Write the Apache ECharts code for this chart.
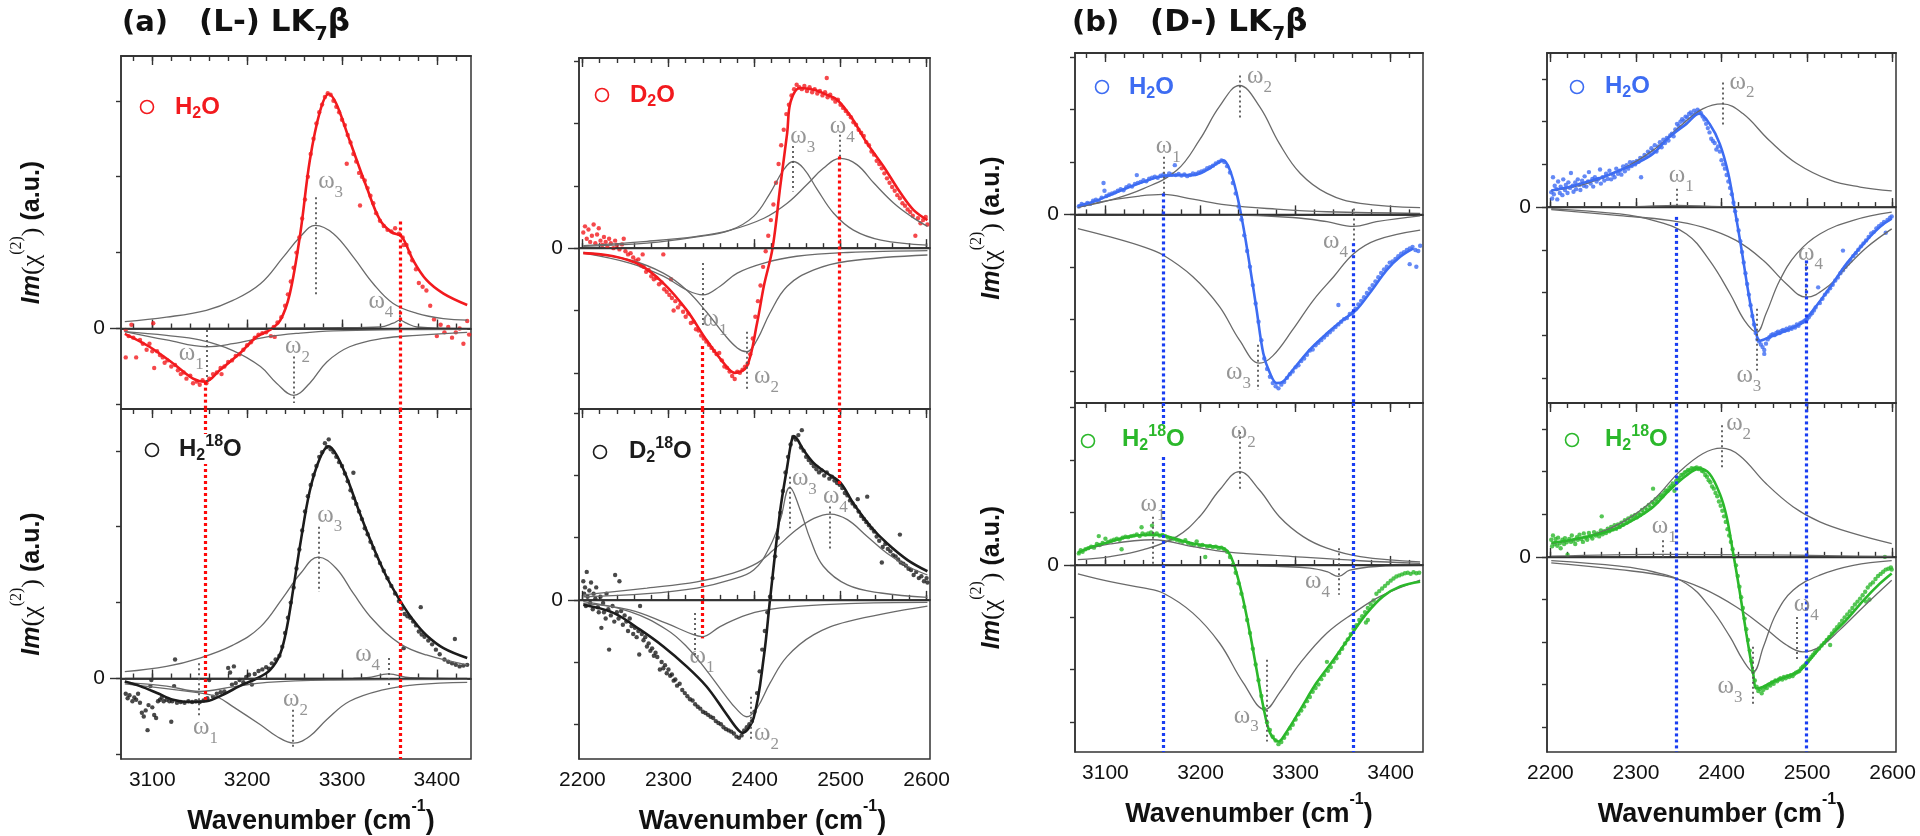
<!DOCTYPE html>
<html><head><meta charset="utf-8">
<script src="https://cdn.jsdelivr.net/npm/echarts@6/dist/echarts.min.js"></script>
<style>html,body{margin:0;padding:0;background:#fff}#c{width:1920px;height:836px}</style>
</head><body><div id="c"></div><script>
// ---------- tick values ----------
const ticksCH = [3100,3200,3300,3400];
const minorCH = [3080,3100,3120,3140,3160,3180,3200,3220,3240,3260,3280,3300,3320,3340,3360,3380,3400,3420];
const ticksOD = [2200,2300,2400,2500,2600];
const minorOD = [2200,2220,2240,2260,2280,2300,2320,2340,2360,2380,2400,2420,2440,2460,2480,2500,2520,2540,2560,2580,2600];
const yTicksA = [-1,0,1,2,3];
const yTicksAR = [-2,-1,0,1,2,3];
const yTicksB = [-3,-2,-1,0,1,2,3];
const yTicksBR = [-4,-3,-2,-1,0,1,2,3];

// ---------- (a) L-LK7b, H2O ----------
const LH_pts = [[3072,-0.02],[3072,-0.38],[3075,-0.10],[3078,0.05],[3080,-0.12],[3083,-0.38],[3087,-0.15],[3090,-0.2],[3094,-0.28],[3097,-0.20],[3100,-0.30],[3101,0.07],[3102,-0.52],[3105,-0.3],[3108,-0.35],[3111,-0.38],[3113,-0.45],[3116,-0.42],[3120,-0.5],[3124,-0.48],[3127,-0.55],[3130,-0.6],[3133,-0.58],[3136,-0.66],[3140,-0.62],[3143,-0.72],[3147,-0.7],[3150,-0.74],[3153,-0.68],[3157,-0.72],[3160,-0.66],[3164,-0.6],[3168,-0.58],[3172,-0.52],[3173,-0.6],[3176,-0.5],[3180,-0.44],[3184,-0.42],[3188,-0.36],[3192,-0.34],[3196,-0.28],[3200,-0.22],[3204,-0.18],[3208,-0.12],[3212,-0.08],[3216,-0.06],[3220,-0.05],[3225,-0.1],[3229,-0.11],[3228,0.02],[3232,0.08],[3236,0.15],[3240,0.3],[3243,0.45],[3246,0.62],[3249,0.8],[3252,1.0],[3255,1.2],[3258,1.45],[3261,1.7],[3264,2.0],[3267,2.3],[3270,2.5],[3273,2.7],[3276,2.85],[3279,2.95],[3282,3.05],[3285,3.1],[3288,3.08],[3291,3.0],[3294,2.92],[3297,2.85],[3300,2.75],[3303,2.68],[3305,2.17],[3306,2.55],[3309,2.45],[3312,2.3],[3315,2.2],[3318,2.05],[3319,1.62],[3321,2.0],[3324,1.95],[3327,1.85],[3330,1.75],[3333,1.65],[3336,1.52],[3340,1.42],[3344,1.35],[3348,1.3],[3352,1.28],[3356,1.32],[3360,1.25],[3364,1.2],[3365,1.1],[3368,1.1],[3371,1.0],[3374,0.9],[3378,0.78],[3381,0.6],[3385,0.55],[3389,0.5],[3393,0.3],[3397,0.12],[3400,-0.1],[3404,0.05],[3408,-0.05],[3412,0.02],[3416,-0.12],[3420,-0.05],[3424,0.0],[3428,-0.2],[3432,0.1],[3434,-0.08]];
const LH_fit = [[3071,-0.07],[3097,-0.24],[3122,-0.46],[3143,-0.66],[3156,-0.70],[3171,-0.55],[3192,-0.33],[3210,-0.11],[3224,-0.02],[3235,0.11],[3245,0.46],[3256,1.25],[3266,2.21],[3277,2.87],[3286,3.09],[3294,2.96],[3308,2.48],[3326,1.86],[3340,1.43],[3352,1.27],[3363,1.21],[3375,0.90],[3389,0.64],[3407,0.46],[3432,0.31]];
const LH_w1 = [[3071,-0.04],[3115,-0.15],[3157,-0.24],[3185,-0.20],[3221,-0.11],[3256,-0.06],[3291,-0.03],[3361,-0.015],[3432,-0.01]];
const LH_w2 = [[3071,-0.04],[3115,-0.09],[3150,-0.15],[3185,-0.29],[3214,-0.50],[3231,-0.72],[3249,-0.88],[3266,-0.72],[3284,-0.44],[3308,-0.24],[3343,-0.13],[3379,-0.09],[3432,-0.05]];
const LH_w3 = [[3071,0.09],[3115,0.15],[3157,0.24],[3185,0.37],[3214,0.59],[3238,0.94],[3256,1.21],[3272,1.36],[3291,1.25],[3312,0.94],[3333,0.59],[3354,0.33],[3379,0.20],[3407,0.13],[3432,0.11]];
const LH_w4 = [[3071,0.0],[3300,0.01],[3340,0.02],[3354,0.07],[3361,0.11],[3368,0.07],[3379,0.02],[3432,0.0]];
const LH_wLines = [[3157,-0.02,-0.70],[3249,-0.37,-0.98],[3272,1.73,0.44],[3361,0.24,0.0]];
const LH_wLabels = [[3141,-0.37],[3253,-0.28],[3288,1.89],[3341,0.31]];
const LH_vLines = [[3156,-0.70,-1.06],[3361,1.41,-1.06]];

// ---------- (a) L-LK7b, H2 18O ----------
const LH18_pts = [[3072,-0.2],[3074,-0.26],[3076,-0.22],[3079,-0.3],[3081,-0.25],[3083,-0.28],[3085,-0.2],[3087,-0.32],[3089,-0.45],[3091,-0.5],[3093,-0.42],[3095,-0.68],[3096,-0.35],[3098,-0.1],[3099,-0.02],[3100,-0.38],[3102,-0.48],[3104,-0.52],[3106,-0.3],[3108,-0.28],[3110,-0.25],[3112,-0.3],[3115,-0.28],[3118,-0.3],[3120,-0.57],[3121,-0.3],[3123,-0.1],[3124,0.25],[3126,-0.32],[3130,-0.31],[3134,-0.32],[3138,-0.3],[3142,-0.31],[3146,-0.3],[3150,-0.31],[3154,-0.29],[3158,-0.26],[3160,-0.02],[3164,-0.24],[3168,-0.2],[3172,-0.18],[3176,-0.17],[3180,0.14],[3182,0.08],[3184,-0.08],[3186,0.16],[3188,-0.06],[3192,-0.02],[3196,-0.05],[3199,0.02],[3202,0.05],[3205,-0.08],[3208,0.06],[3212,0.1],[3216,0.12],[3220,0.15],[3223,0.13],[3226,0.2],[3230,0.25],[3234,0.3],[3237,0.42],[3240,0.6],[3243,0.8],[3246,1.0],[3249,1.2],[3252,1.45],[3255,1.7],[3258,1.95],[3261,2.2],[3264,2.4],[3267,2.55],[3270,2.68],[3273,2.8],[3276,2.92],[3279,2.98],[3282,3.1],[3284,3.05],[3286,3.15],[3288,3.02],[3291,2.98],[3294,2.92],[3297,2.85],[3300,2.8],[3303,2.7],[3306,2.6],[3309,2.48],[3312,2.38],[3312,2.71],[3315,2.3],[3318,2.2],[3321,2.1],[3324,1.98],[3327,1.9],[3330,1.8],[3333,1.72],[3336,1.62],[3340,1.52],[3344,1.42],[3348,1.32],[3352,1.22],[3356,1.12],[3360,1.02],[3363,0.92],[3365,0.4],[3366,0.85],[3369,0.82],[3372,0.8],[3375,0.75],[3378,0.7],[3381,0.62],[3383,0.94],[3384,0.58],[3387,0.55],[3391,0.5],[3395,0.45],[3399,0.38],[3403,0.32],[3408,0.25],[3412,0.22],[3416,0.2],[3419,0.52],[3420,0.18],[3424,0.16],[3428,0.17],[3432,0.18]];
const LH18_fit = [[3071,-0.04],[3087,-0.10],[3105,-0.19],[3122,-0.28],[3140,-0.31],[3157,-0.30],[3175,-0.21],[3192,-0.10],[3210,0.0],[3224,0.11],[3235,0.33],[3242,0.68],[3249,1.21],[3256,1.77],[3266,2.47],[3277,2.91],[3286,3.06],[3294,2.95],[3305,2.65],[3319,2.17],[3333,1.73],[3347,1.34],[3361,1.03],[3375,0.77],[3389,0.57],[3407,0.40],[3432,0.27]];
const LH18_w1 = [[3071,-0.05],[3115,-0.10],[3150,-0.17],[3185,-0.11],[3221,-0.05],[3291,-0.02],[3432,-0.01]];
const LH18_w2 = [[3071,-0.07],[3150,-0.19],[3168,-0.24],[3185,-0.37],[3214,-0.61],[3231,-0.76],[3249,-0.85],[3266,-0.76],[3284,-0.54],[3308,-0.30],[3343,-0.15],[3379,-0.08],[3432,-0.05]];
const LH18_w3 = [[3071,0.09],[3115,0.16],[3150,0.27],[3185,0.44],[3214,0.68],[3238,1.07],[3256,1.38],[3275,1.6],[3294,1.45],[3312,1.12],[3333,0.77],[3361,0.46],[3389,0.31],[3432,0.18]];
const LH18_w4 = [[3071,0.0],[3312,0.005],[3326,0.01],[3349,0.06],[3372,0.01],[3432,0.0]];
const LH18_wLines = [[3149,0.2,-0.5],[3248,-0.41,-0.91],[3275,2.0,1.14],[3349,0.27,-0.1]];
const LH18_wLabels = [[3156,-0.69],[3251,-0.32],[3287,2.1],[3327,0.27]];
const LH18_vLines = [[3156,3.55,-0.28],[3361,3.55,-1.06]];

// ---------- (a) L-LK7b, D2O ----------
const LD_pts = [[2201,0.25],[2203,0.35],[2205,0.15],[2207,0.3],[2209,0.1],[2211,0.2],[2213,0.38],[2215,0.08],[2217,0.22],[2219,0.32],[2221,0.12],[2223,0.05],[2225,0.18],[2227,0.1],[2229,0.02],[2231,0.15],[2233,0.08],[2236,0.0],[2238,0.12],[2240,0.05],[2243,-0.02],[2246,0.06],[2248,0.15],[2250,-0.05],[2253,-0.1],[2256,-0.08],[2259,-0.15],[2262,-0.2],[2265,-0.18],[2268,-0.28],[2270,-0.1],[2271,-0.3],[2274,-0.38],[2277,-0.35],[2280,-0.45],[2283,-0.5],[2286,-0.48],[2289,-0.58],[2292,-0.55],[2294,-0.1],[2295,-0.66],[2298,-0.7],[2301,-0.75],[2303,-0.5],[2304,-0.8],[2306,-1.0],[2308,-0.85],[2311,-0.95],[2314,-0.9],[2317,-1.02],[2320,-1.1],[2323,-1.05],[2326,-1.2],[2329,-1.18],[2332,-1.3],[2335,-1.32],[2338,-1.4],[2341,-1.45],[2344,-1.5],[2347,-1.55],[2350,-1.6],[2353,-1.65],[2356,-1.7],[2359,-1.68],[2362,-1.8],[2365,-1.9],[2368,-1.92],[2371,-1.98],[2374,-2.05],[2377,-2.1],[2380,-1.98],[2383,-2.0],[2386,-1.95],[2389,-1.9],[2392,-1.85],[2395,-1.7],[2398,-1.45],[2401,-1.1],[2404,-0.85],[2407,-0.6],[2410,-0.3],[2413,-0.05],[2416,0.2],[2419,0.45],[2422,0.7],[2425,1.05],[2428,1.35],[2431,1.65],[2434,1.9],[2437,2.15],[2440,2.3],[2443,2.45],[2446,2.55],[2449,2.62],[2452,2.58],[2455,2.55],[2458,2.6],[2461,2.52],[2464,2.58],[2467,2.5],[2470,2.55],[2473,2.48],[2476,2.52],[2479,2.45],[2482,2.5],[2484,2.73],[2485,2.42],[2488,2.46],[2491,2.4],[2494,2.35],[2497,2.38],[2500,2.3],[2503,2.25],[2506,2.2],[2509,2.15],[2512,2.1],[2515,2.02],[2518,1.98],[2521,1.9],[2524,1.85],[2527,1.8],[2530,1.7],[2533,1.65],[2536,1.55],[2539,1.5],[2542,1.4],[2545,1.35],[2548,1.28],[2551,1.2],[2554,1.12],[2557,1.05],[2560,0.98],[2563,0.92],[2566,0.85],[2569,0.8],[2572,0.72],[2575,0.68],[2578,0.62],[2581,0.58],[2584,0.52],[2587,0.2],[2590,0.48],[2593,0.4],[2596,0.45],[2599,0.5],[2601,0.38]];
const LD_fit = [[2201,-0.08],[2236,-0.13],[2267,-0.27],[2294,-0.56],[2321,-0.99],[2344,-1.47],[2364,-1.84],[2377,-2.0],[2391,-1.9],[2403,-1.2],[2411,-0.6],[2421,0.0],[2430,1.0],[2438,1.85],[2442,2.35],[2453,2.57],[2469,2.54],[2484,2.46],[2496,2.38],[2512,2.11],[2531,1.68],[2550,1.31],[2570,0.88],[2585,0.61],[2601,0.45]];
const LD_w1 = [[2201,-0.08],[2255,-0.24],[2294,-0.45],[2321,-0.67],[2340,-0.75],[2360,-0.61],[2380,-0.40],[2411,-0.24],[2449,-0.13],[2508,-0.07],[2601,-0.04]];
const LD_w2 = [[2201,-0.07],[2255,-0.19],[2294,-0.40],[2321,-0.67],[2344,-1.02],[2364,-1.37],[2380,-1.60],[2391,-1.66],[2403,-1.47],[2418,-1.04],[2438,-0.61],[2469,-0.35],[2508,-0.21],[2601,-0.11]];
const LD_w3 = [[2201,0.03],[2275,0.08],[2333,0.18],[2372,0.29],[2399,0.51],[2418,0.88],[2434,1.26],[2445,1.39],[2457,1.28],[2473,0.94],[2492,0.56],[2515,0.29],[2547,0.13],[2601,0.05]];
const LD_w4 = [[2201,0.04],[2275,0.11],[2333,0.19],[2372,0.29],[2411,0.48],[2438,0.72],[2461,1.02],[2480,1.28],[2500,1.44],[2519,1.34],[2539,1.04],[2562,0.72],[2582,0.51],[2601,0.35]];
const LD_wLines = [[2340,-0.24,-1.28],[2391,-1.34,-2.27],[2445,1.64,0.91],[2499,1.82,1.44]];
const LD_wLabels = [[2354,-1.2],[2414,-2.11],[2456,1.74],[2502,1.9]];
const LD_vLines = [[2339,-1.57,-2.58],[2498,1.47,-2.58]];

// ---------- (a) L-LK7b, D2 18O ----------
const LD18_pts = [[2201,0.3],[2202,0.1],[2203,0.2],[2204,-0.1],[2205,0.45],[2206,0.05],[2208,0.15],[2209,-0.05],[2210,0.28],[2212,-0.15],[2213,0.1],[2215,0.02],[2216,0.2],[2218,-0.12],[2219,-0.2],[2221,0.05],[2222,-0.45],[2224,-0.05],[2225,-0.2],[2227,-0.3],[2228,0.1],[2230,-0.15],[2231,-0.8],[2233,-0.25],[2235,-0.1],[2237,-0.35],[2238,0.4],[2240,-0.2],[2242,-0.3],[2243,0.3],[2245,-0.18],[2247,-0.4],[2249,-0.25],[2251,-0.35],[2253,-0.5],[2255,-0.3],[2257,-0.42],[2259,-0.55],[2261,-0.45],[2263,-0.6],[2265,-0.5],[2266,-0.88],[2267,-0.1],[2269,-0.55],[2271,-0.65],[2273,-0.6],[2275,-0.75],[2277,-0.7],[2279,-0.82],[2281,-0.78],[2283,-0.9],[2285,-0.85],[2287,-0.92],[2290,-1.12],[2292,-1.0],[2294,-1.1],[2296,-1.05],[2298,-1.18],[2300,-1.12],[2302,-1.22],[2304,-1.2],[2306,-1.3],[2308,-1.28],[2310,-1.38],[2313,-1.35],[2316,-1.45],[2319,-1.5],[2322,-1.55],[2325,-1.6],[2328,-1.62],[2331,-1.68],[2334,-1.72],[2337,-1.75],[2340,-1.8],[2343,-1.82],[2346,-1.85],[2349,-1.88],[2352,-1.9],[2355,-1.95],[2358,-1.98],[2361,-2.0],[2364,-2.05],[2367,-2.08],[2370,-2.1],[2373,-2.12],[2376,-2.15],[2379,-2.2],[2382,-2.22],[2385,-2.18],[2388,-2.1],[2391,-2.05],[2394,-2.0],[2397,-1.95],[2400,-1.8],[2403,-1.5],[2406,-1.15],[2409,-0.8],[2412,-0.5],[2415,-0.2],[2418,0.05],[2421,0.35],[2424,0.7],[2427,1.0],[2430,1.4],[2433,1.75],[2436,2.05],[2439,2.3],[2442,2.5],[2445,2.62],[2448,2.58],[2451,2.65],[2454,2.45],[2455,2.73],[2457,2.4],[2460,2.3],[2463,2.25],[2466,2.2],[2469,2.15],[2472,2.1],[2475,2.05],[2478,2.08],[2481,2.0],[2484,2.05],[2487,1.95],[2490,1.98],[2493,1.92],[2496,1.88],[2499,1.85],[2502,1.8],[2505,1.72],[2508,1.68],[2511,1.6],[2514,1.55],[2517,1.5],[2520,1.62],[2521,1.42],[2524,1.35],[2527,1.3],[2530,1.25],[2531,1.66],[2533,1.2],[2536,1.15],[2539,1.1],[2542,1.02],[2545,0.95],[2548,0.6],[2549,0.85],[2552,0.9],[2555,0.82],[2558,0.78],[2561,0.72],[2564,0.7],[2567,0.65],[2569,1.05],[2570,0.6],[2573,0.58],[2576,0.55],[2579,0.5],[2582,0.48],[2585,0.4],[2588,0.45],[2591,0.35],[2594,0.38],[2597,0.3],[2600,0.35],[2601,0.28]];
const LD18_fit = [[2201,-0.08],[2236,-0.21],[2267,-0.48],[2294,-0.75],[2321,-1.07],[2344,-1.39],[2364,-1.77],[2379,-2.06],[2386,-2.14],[2399,-1.9],[2411,-0.9],[2418,0.0],[2430,1.45],[2438,2.14],[2443,2.55],[2446,2.63],[2457,2.41],[2469,2.2],[2484,2.04],[2500,1.88],[2515,1.55],[2535,1.18],[2554,0.91],[2578,0.64],[2601,0.46]];
const LD18_w1 = [[2201,-0.06],[2255,-0.16],[2298,-0.38],[2329,-0.56],[2339,-0.59],[2360,-0.43],[2391,-0.24],[2430,-0.13],[2508,-0.06],[2601,-0.04]];
const LD18_w2 = [[2201,-0.03],[2255,-0.19],[2298,-0.48],[2321,-0.75],[2344,-1.13],[2364,-1.5],[2380,-1.77],[2391,-1.88],[2403,-1.74],[2418,-1.34],[2438,-0.91],[2469,-0.56],[2508,-0.35],[2601,-0.1]];
const LD18_w3 = [[2201,0.05],[2275,0.1],[2333,0.19],[2372,0.32],[2399,0.48],[2418,0.86],[2430,1.29],[2441,1.81],[2453,1.45],[2465,0.97],[2480,0.54],[2508,0.24],[2547,0.11],[2601,0.04]];
const LD18_w4 = [[2201,0.08],[2275,0.19],[2333,0.29],[2375,0.43],[2403,0.59],[2422,0.80],[2449,1.13],[2469,1.31],[2488,1.38],[2508,1.29],[2531,1.02],[2554,0.75],[2578,0.54],[2601,0.40]];
const LD18_wLines = [[2331,-0.21,-0.91],[2396,-1.56,-2.25],[2441,1.98,1.15],[2488,1.5,0.78]];
const LD18_wLabels = [[2339,-0.96],[2414,-2.2],[2458,1.9],[2494,1.61]];
const LD18_vLines = [[2339,3.07,-0.62],[2498,3.07,1.82]];

// ---------- (b) D-LK7b, H2O (CH region) ----------
const DH_pts = [[3072,0.15],[3075,0.2],[3078,0.18],[3081,0.22],[3084,0.2],[3087,0.26],[3090,0.28],[3093,0.25],[3096,0.32],[3098,0.6],[3099,0.45],[3101,0.35],[3104,0.38],[3107,0.4],[3110,0.42],[3113,0.45],[3116,0.48],[3119,0.46],[3122,0.52],[3125,0.55],[3128,0.53],[3131,0.58],[3133,0.75],[3134,0.6],[3137,0.62],[3140,0.65],[3143,0.63],[3146,0.68],[3149,0.7],[3152,0.72],[3155,0.7],[3158,0.74],[3161,0.76],[3164,0.73],[3167,0.78],[3170,0.76],[3173,0.94],[3174,0.75],[3177,0.77],[3180,0.74],[3183,0.76],[3186,0.73],[3189,0.75],[3192,0.78],[3195,0.77],[3198,0.8],[3201,0.82],[3204,0.84],[3207,0.88],[3210,0.9],[3213,0.93],[3216,0.97],[3219,1.0],[3222,1.03],[3225,1.0],[3228,0.92],[3231,0.8],[3234,0.6],[3237,0.4],[3240,0.15],[3243,-0.1],[3246,-0.4],[3249,-0.7],[3252,-1.0],[3255,-1.35],[3258,-1.7],[3261,-2.05],[3264,-2.4],[3267,-2.75],[3270,-2.95],[3273,-3.1],[3276,-3.22],[3279,-3.28],[3282,-3.32],[3285,-3.25],[3288,-3.2],[3291,-3.12],[3294,-3.05],[3297,-3.0],[3300,-2.92],[3303,-2.88],[3306,-2.8],[3309,-2.75],[3312,-2.68],[3315,-2.6],[3318,-2.58],[3321,-2.5],[3324,-2.45],[3327,-2.4],[3330,-2.35],[3333,-2.3],[3336,-2.25],[3339,-2.2],[3342,-2.15],[3345,-1.73],[3345,-2.1],[3348,-2.05],[3351,-2.0],[3354,-1.98],[3357,-1.9],[3360,-1.88],[3363,-1.8],[3366,-1.72],[3369,-1.65],[3372,-1.58],[3375,-1.5],[3378,-1.42],[3381,-1.35],[3384,-1.28],[3387,-1.2],[3390,-1.12],[3393,-1.05],[3396,-1.0],[3399,-0.92],[3402,-0.9],[3405,-0.85],[3408,-0.8],[3411,-0.75],[3414,-0.72],[3417,-0.68],[3420,-0.65],[3420,-0.95],[3423,-0.62],[3426,-0.68],[3427,-1.0],[3429,-0.7],[3431,-0.6]];
const DH_fit = [[3071,0.16],[3087,0.24],[3105,0.37],[3122,0.5],[3140,0.62],[3157,0.72],[3175,0.75],[3192,0.75],[3206,0.84],[3217,0.97],[3224,1.03],[3231,0.84],[3238,0.40],[3245,-0.23],[3252,-1.0],[3259,-1.82],[3266,-2.65],[3273,-3.03],[3280,-3.22],[3287,-3.19],[3297,-2.97],[3315,-2.58],[3333,-2.27],[3350,-2.01],[3364,-1.82],[3378,-1.5],[3396,-1.06],[3410,-0.81],[3424,-0.65]];
const DH_w1 = [[3071,0.13],[3105,0.27],[3136,0.35],[3161,0.38],[3192,0.29],[3227,0.18],[3280,0.1],[3333,0.05],[3431,0.02]];
const DH_w2 = [[3071,0.14],[3105,0.27],[3140,0.49],[3175,0.84],[3199,1.42],[3220,2.06],[3241,2.46],[3262,2.06],[3283,1.35],[3305,0.78],[3333,0.40],[3368,0.21],[3431,0.13]];
const DH_w3 = [[3071,-0.27],[3105,-0.43],[3140,-0.62],[3161,-0.78],[3192,-1.19],[3220,-1.76],[3241,-2.40],[3262,-2.84],[3276,-2.70],[3297,-2.20],[3319,-1.63],[3340,-1.19],[3361,-0.75],[3385,-0.49],[3431,-0.30]];
const DH_w4 = [[3071,0.0],[3227,-0.01],[3297,-0.06],[3333,-0.14],[3361,-0.23],[3385,-0.14],[3431,-0.03]];
const DH_wLines = [[3161,1.10,0.33],[3241,2.65,1.83],[3260,-2.49,-3.35],[3361,0.11,-0.62]];
const DH_wLabels = [[3166,1.23],[3262,2.56],[3240,-3.09],[3342,-0.58]];
const DH_vLines = [[3161,0.4,-3.6],[3361,-0.55,-3.6]];

// ---------- (b) D-LK7b, H2 18O (CH region) ----------
const DH18_pts = [[3072,0.22],[3074,0.28],[3076,0.25],[3079,0.3],[3082,0.32],[3085,0.35],[3088,0.33],[3091,0.4],[3093,0.55],[3094,0.38],[3097,0.42],[3100,0.5],[3103,0.44],[3106,0.46],[3109,0.48],[3112,0.5],[3115,0.48],[3117,0.3],[3118,0.52],[3121,0.54],[3124,0.53],[3127,0.55],[3130,0.56],[3133,0.58],[3136,0.55],[3138,0.72],[3139,0.6],[3142,0.58],[3145,0.6],[3148,0.62],[3149,0.75],[3151,0.58],[3154,0.6],[3157,0.56],[3160,0.57],[3163,0.55],[3166,0.52],[3169,0.5],[3172,0.5],[3175,0.48],[3178,0.46],[3181,0.44],[3184,0.47],[3187,0.42],[3190,0.4],[3193,0.38],[3196,0.45],[3199,0.36],[3202,0.38],[3205,0.15],[3207,0.35],[3210,0.36],[3213,0.34],[3216,0.35],[3219,0.32],[3222,0.33],[3225,0.3],[3228,0.25],[3231,0.15],[3234,0.0],[3237,-0.15],[3240,-0.35],[3243,-0.55],[3246,-0.8],[3249,-1.05],[3252,-1.3],[3255,-1.6],[3258,-1.9],[3261,-2.2],[3264,-2.5],[3267,-2.75],[3270,-3.0],[3273,-3.15],[3276,-3.28],[3279,-3.35],[3282,-3.42],[3285,-3.38],[3288,-3.3],[3291,-3.22],[3294,-3.12],[3297,-3.05],[3300,-2.95],[3303,-2.85],[3306,-2.78],[3309,-2.7],[3312,-2.6],[3315,-2.52],[3318,-2.42],[3321,-2.35],[3324,-2.28],[3327,-2.18],[3330,-2.1],[3333,-1.85],[3334,-2.02],[3337,-1.95],[3340,-1.85],[3343,-1.78],[3346,-1.68],[3349,-1.6],[3352,-1.5],[3355,-1.42],[3358,-1.32],[3361,-1.22],[3364,-1.15],[3367,-1.05],[3370,-0.98],[3373,-0.9],[3374,-1.1],[3376,-0.82],[3376,-1.05],[3379,-0.75],[3382,-0.68],[3385,-0.55],[3388,-0.5],[3391,-0.45],[3394,-0.4],[3397,-0.35],[3400,-0.3],[3403,-0.26],[3406,-0.22],[3409,-0.2],[3412,-0.18],[3415,-0.16],[3418,-0.15],[3421,-0.17],[3424,-0.14],[3427,-0.16],[3430,-0.15]];
const DH18_fit = [[3071,0.23],[3087,0.35],[3105,0.44],[3122,0.53],[3140,0.57],[3157,0.57],[3175,0.49],[3192,0.41],[3210,0.36],[3224,0.32],[3231,0.19],[3238,-0.16],[3245,-0.67],[3252,-1.3],[3259,-2.0],[3266,-2.7],[3273,-3.2],[3282,-3.37],[3290,-3.2],[3305,-2.76],[3322,-2.25],[3340,-1.81],[3357,-1.37],[3375,-0.92],[3392,-0.6],[3410,-0.41],[3431,-0.32]];
const DH18_w1 = [[3071,0.25],[3105,0.4],[3150,0.48],[3192,0.35],[3227,0.25],[3297,0.16],[3368,0.08],[3431,0.03]];
const DH18_w2 = [[3071,0.1],[3105,0.16],[3140,0.29],[3175,0.54],[3199,0.92],[3220,1.43],[3241,1.78],[3262,1.43],[3283,0.92],[3308,0.54],[3333,0.32],[3368,0.16],[3431,0.06]];
const DH18_w3 = [[3071,-0.17],[3105,-0.32],[3140,-0.44],[3161,-0.54],[3192,-0.92],[3220,-1.49],[3245,-2.25],[3268,-2.76],[3283,-2.44],[3305,-1.87],[3333,-1.30],[3361,-0.92],[3389,-0.60],[3431,-0.29]];
const DH18_w4 = [[3071,0.0],[3262,-0.02],[3315,-0.06],[3333,-0.13],[3345,-0.22],[3357,-0.10],[3385,-0.03],[3431,-0.01]];
const DH18_wLines = [[3150,0.92,0.0],[3241,2.54,1.43],[3270,-1.81,-3.37],[3345,0.32,-0.57]];
const DH18_wLabels = [[3150,1.08],[3245,2.48],[3248,-2.95],[3323,-0.38]];
const DH18_vLines = [[3161,3.09,-3.57],[3361,3.09,-3.57]];

// ---------- (b) D-LK7b, H2O (OD region) ----------
const DD_pts = [[2201,0.35],[2202,0.2],[2203,0.7],[2204,0.3],[2205,0.5],[2207,0.42],[2208,0.18],[2209,0.6],[2211,0.33],[2212,0.48],[2214,0.28],[2215,0.65],[2217,0.4],[2218,0.52],[2220,0.33],[2221,0.58],[2223,0.45],[2224,0.8],[2226,0.5],[2227,0.36],[2229,0.58],[2230,0.42],[2232,0.65],[2234,0.52],[2235,0.4],[2237,0.62],[2239,0.5],[2240,0.72],[2242,0.48],[2244,0.6],[2245,0.82],[2247,0.55],[2249,0.66],[2250,0.48],[2252,0.7],[2254,0.6],[2256,0.66],[2258,0.88],[2259,0.55],[2261,0.7],[2263,0.62],[2265,0.78],[2267,0.66],[2269,0.85],[2271,0.65],[2273,0.76],[2275,0.7],[2277,0.9],[2279,0.78],[2281,0.85],[2283,0.76],[2285,0.95],[2287,0.84],[2289,0.98],[2291,0.9],[2293,1.05],[2295,0.96],[2297,1.05],[2299,1.0],[2301,1.08],[2303,1.06],[2305,1.15],[2306,0.7],[2308,1.14],[2310,1.22],[2312,1.18],[2314,1.3],[2316,1.26],[2318,1.38],[2320,1.32],[2322,1.45],[2324,1.3],[2326,1.42],[2328,1.52],[2330,1.4],[2332,1.58],[2334,1.5],[2336,1.62],[2338,1.56],[2340,1.68],[2342,1.72],[2344,1.66],[2346,1.82],[2348,1.95],[2350,1.9],[2352,2.0],[2354,2.06],[2356,2.02],[2358,2.12],[2360,2.1],[2362,2.18],[2364,2.22],[2366,2.16],[2368,2.26],[2370,2.2],[2372,2.28],[2374,2.24],[2376,2.2],[2378,2.12],[2380,2.05],[2382,1.95],[2384,1.85],[2386,1.75],[2388,1.6],[2390,1.55],[2392,1.5],[2394,1.35],[2396,1.42],[2398,1.3],[2400,1.1],[2402,1.0],[2404,0.9],[2406,0.75],[2408,0.6],[2410,0.45],[2412,0.3],[2414,0.1],[2416,-0.1],[2418,-0.3],[2420,-0.55],[2422,-0.8],[2424,-1.05],[2426,-1.3],[2428,-1.55],[2430,-1.8],[2432,-2.05],[2434,-2.3],[2436,-2.55],[2438,-2.75],[2440,-2.95],[2442,-3.1],[2444,-3.15],[2446,-3.22],[2448,-3.28],[2450,-3.35],[2450,-3.44],[2452,-3.2],[2454,-3.1],[2456,-3.05],[2458,-3.0],[2460,-2.98],[2462,-3.0],[2464,-2.95],[2466,-2.92],[2468,-2.95],[2470,-2.9],[2472,-2.88],[2474,-2.9],[2476,-2.85],[2478,-2.88],[2480,-2.82],[2482,-2.85],[2484,-2.8],[2486,-2.82],[2488,-2.75],[2490,-2.78],[2492,-2.72],[2494,-2.7],[2496,-2.68],[2498,-2.65],[2500,-2.62],[2502,-2.58],[2504,-2.52],[2506,-2.48],[2508,-2.42],[2510,-2.35],[2513,-1.88],[2515,-2.25],[2518,-2.15],[2521,-2.05],[2524,-1.98],[2527,-1.9],[2530,-1.82],[2533,-1.72],[2536,-1.65],[2539,-1.55],[2542,-1.48],[2542,-1.02],[2545,-1.4],[2548,-1.32],[2551,-1.25],[2554,-1.15],[2557,-1.08],[2560,-1.0],[2563,-0.92],[2566,-0.85],[2569,-0.78],[2572,-0.7],[2575,-0.62],[2578,-0.58],[2581,-0.5],[2584,-0.45],[2587,-0.4],[2590,-0.35],[2592,-0.6],[2594,-0.3],[2597,-0.25],[2599,-0.22]];
const DD_fit = [[2201,0.39],[2222,0.47],[2242,0.59],[2261,0.7],[2281,0.86],[2300,1.02],[2320,1.25],[2339,1.64],[2359,1.95],[2374,2.19],[2386,1.95],[2398,1.48],[2408,0.78],[2415,0.0],[2423,-0.94],[2431,-1.95],[2439,-2.81],[2445,-3.13],[2456,-3.05],[2476,-2.89],[2495,-2.7],[2507,-2.42],[2527,-1.88],[2546,-1.33],[2566,-0.86],[2585,-0.47],[2599,-0.27]];
const DD_w1 = [[2201,-0.01],[2300,0.01],[2348,0.04],[2400,0.01],[2599,0.0]];
const DD_w2 = [[2201,0.38],[2242,0.55],[2281,0.86],[2320,1.33],[2351,1.88],[2378,2.3],[2401,2.42],[2425,2.19],[2456,1.56],[2488,1.02],[2527,0.63],[2562,0.47],[2599,0.38]];
const DD_w3 = [[2201,-0.04],[2281,-0.16],[2320,-0.31],[2359,-0.63],[2386,-1.25],[2410,-2.03],[2427,-2.66],[2441,-2.93],[2452,-2.5],[2468,-1.72],[2488,-1.09],[2515,-0.63],[2554,-0.31],[2599,-0.12]];
const DD_w4 = [[2201,-0.06],[2281,-0.2],[2339,-0.31],[2378,-0.47],[2417,-0.78],[2449,-1.25],[2476,-1.80],[2499,-2.11],[2523,-1.88],[2546,-1.41],[2570,-0.94],[2599,-0.51]];
const DD_wLines = [[2348,0.43,0.0],[2401,2.92,1.88],[2441,-2.38,-3.83],[2499,-1.33,-2.11]];
const DD_wLabels = [[2353,0.66],[2424,2.85],[2432,-4.02],[2504,-1.17]];
const DD_vLines = [[2347,-0.23,-4.59],[2499,-1.25,-4.59]];

// ---------- (b) D-LK7b, H2 18O (OD region) ----------
const DD18_pts = [[2201,0.4],[2202,0.25],[2203,0.5],[2205,0.3],[2206,0.42],[2208,0.26],[2209,0.45],[2211,0.32],[2212,0.2],[2214,0.4],[2216,0.3],[2217,0.44],[2219,0.34],[2220,0.05],[2222,0.42],[2224,0.35],[2225,0.5],[2227,0.38],[2229,0.3],[2231,0.46],[2232,0.4],[2234,0.52],[2236,0.42],[2238,0.35],[2239,0.55],[2241,0.45],[2243,0.4],[2245,0.56],[2247,0.48],[2249,0.43],[2251,0.58],[2253,0.5],[2255,0.55],[2257,0.48],[2259,0.62],[2260,0.95],[2261,0.53],[2263,0.6],[2265,0.56],[2267,0.66],[2269,0.6],[2271,0.7],[2273,0.64],[2275,0.74],[2277,0.66],[2279,0.76],[2281,0.7],[2283,0.8],[2285,0.75],[2287,0.86],[2289,0.8],[2291,0.9],[2293,0.85],[2295,0.95],[2297,0.9],[2299,0.98],[2301,0.93],[2303,1.02],[2305,0.98],[2307,1.1],[2309,1.04],[2311,1.15],[2313,1.1],[2315,1.22],[2317,1.16],[2319,1.28],[2320,1.6],[2321,1.25],[2323,1.35],[2325,1.3],[2327,1.4],[2329,1.45],[2331,1.42],[2333,1.5],[2335,1.56],[2337,1.55],[2339,1.62],[2341,1.66],[2343,1.72],[2345,1.55],[2347,1.78],[2349,1.84],[2351,1.85],[2353,1.92],[2355,1.93],[2357,1.98],[2359,2.0],[2361,2.04],[2363,2.02],[2365,2.08],[2367,2.06],[2369,2.08],[2371,2.1],[2373,2.06],[2375,2.08],[2377,2.02],[2379,2.0],[2381,1.92],[2383,1.88],[2385,1.8],[2387,1.75],[2389,1.65],[2391,1.6],[2393,1.5],[2395,1.42],[2397,1.3],[2399,1.2],[2401,1.08],[2403,0.95],[2405,0.82],[2407,0.65],[2409,0.5],[2411,0.35],[2413,0.18],[2415,0.0],[2417,-0.2],[2419,-0.45],[2421,-0.7],[2423,-0.95],[2425,-1.2],[2427,-1.45],[2429,-1.7],[2431,-1.95],[2433,-2.2],[2435,-2.45],[2437,-2.7],[2439,-2.9],[2441,-3.05],[2443,-3.15],[2445,-3.1],[2447,-3.2],[2449,-3.12],[2451,-3.05],[2453,-3.08],[2455,-3.0],[2457,-3.02],[2459,-2.95],[2461,-2.98],[2463,-2.9],[2465,-2.92],[2467,-2.88],[2469,-2.85],[2471,-2.88],[2473,-2.82],[2475,-2.85],[2477,-2.8],[2479,-2.82],[2481,-2.78],[2483,-2.8],[2485,-2.75],[2487,-2.72],[2489,-2.7],[2491,-2.68],[2493,-2.62],[2495,-2.58],[2497,-2.55],[2499,-2.5],[2501,-2.45],[2503,-2.4],[2505,-2.35],[2507,-2.3],[2509,-2.25],[2511,-2.2],[2514,-2.15],[2517,-2.08],[2520,-2.02],[2523,-1.95],[2526,-1.88],[2527,-2.07],[2529,-1.8],[2532,-1.72],[2535,-1.65],[2538,-1.58],[2541,-1.5],[2544,-1.42],[2547,-1.35],[2550,-1.28],[2553,-1.2],[2556,-1.12],[2559,-1.05],[2562,-0.98],[2565,-0.9],[2568,-0.82],[2569,-1.05],[2571,-0.72],[2573,-1.0],[2574,-0.65],[2577,-0.6],[2580,-0.52],[2583,-0.45],[2586,-0.4],[2589,-0.35],[2591,0.0],[2592,-0.3],[2595,-0.28],[2598,-0.25],[2599,-0.3]];
const DD18_fit = [[2201,0.33],[2222,0.39],[2242,0.47],[2261,0.56],[2281,0.7],[2300,0.9],[2320,1.17],[2339,1.56],[2359,1.91],[2374,2.07],[2386,1.95],[2398,1.48],[2406,0.94],[2413,0.16],[2421,-0.78],[2429,-1.8],[2437,-2.73],[2441,-3.09],[2449,-3.05],[2460,-2.93],[2476,-2.81],[2492,-2.66],[2503,-2.42],[2523,-1.95],[2546,-1.48],[2566,-1.02],[2585,-0.63],[2599,-0.39]];
const DD18_w1 = [[2201,0.016],[2331,0.06],[2599,0.01]];
const DD18_w2 = [[2201,0.31],[2242,0.47],[2281,0.78],[2320,1.33],[2351,2.0],[2378,2.42],[2400,2.55],[2421,2.38],[2452,1.72],[2484,1.17],[2515,0.82],[2554,0.55],[2599,0.31]];
const DD18_w3 = [[2201,-0.09],[2281,-0.22],[2320,-0.35],[2359,-0.63],[2386,-1.17],[2410,-1.88],[2425,-2.42],[2437,-2.7],[2449,-2.11],[2464,-1.33],[2484,-0.78],[2515,-0.43],[2554,-0.2],[2599,-0.09]];
const DD18_w4 = [[2201,-0.14],[2281,-0.30],[2339,-0.47],[2378,-0.74],[2417,-1.17],[2449,-1.64],[2476,-2.07],[2495,-2.23],[2515,-2.11],[2538,-1.72],[2566,-1.17],[2599,-0.55]];
const DD18_wLines = [[2331,0.39,-0.08],[2400,3.09,2.03],[2437,-2.11,-3.52],[2488,-1.41,-2.42]];
const DD18_wLabels = [[2333,0.63],[2420,3.05],[2410,-3.13],[2499,-1.21]];
const DD18_vLines = [[2347,3.6,-4.58],[2499,3.6,-4.58]];

// ---------- styling / layout ----------
const RED='#f21a1e', BLK='#1c1c1c', BLUE='#3d6cf2', GRN='#2bb82b', VRED='#ff0a0a', VBLUE='#1a3ef2';
const SANS='"Liberation Sans", Arial, sans-serif', SERIF='"Liberation Serif", "Times New Roman", serif';

const panels = [
 {pts:LH_pts, fit:LH_fit, comps:[LH_w1,LH_w2,LH_w3,LH_w4], wl:LH_wLines, wt:LH_wLabels, vl:LH_vLines,
  grid:{left:121,top:56,width:350,height:353}, xr:[3067,3436], yr:[-1.06,3.59], yt:yTicksA, xminor:minorCH, xmajor:ticksCH, col:RED, vcol:VRED, xName:false, yName:true, yGap:76},
 {pts:LH18_pts, fit:LH18_fit, comps:[LH18_w1,LH18_w2,LH18_w3,LH18_w4], wl:LH18_wLines, wt:LH18_wLabels, vl:LH18_vLines,
  grid:{left:121,top:409,width:350,height:350}, xr:[3067,3436], yr:[-1.06,3.55], yt:yTicksA, xminor:minorCH, xmajor:ticksCH, col:BLK, vcol:VRED, xName:true, yName:true, yGap:76, xShift:30},
 {pts:LD_pts, fit:LD_fit, comps:[LD_w1,LD_w2,LD_w3,LD_w4], wl:LD_wLines, wt:LD_wLabels, vl:LD_vLines,
  grid:{left:579,top:58,width:351,height:351}, xr:[2196,2604], yr:[-2.58,3.05], yt:yTicksAR, xminor:minorOD, xmajor:ticksOD, col:RED, vcol:VRED, xName:false, yName:false},
 {pts:LD18_pts, fit:LD18_fit, comps:[LD18_w1,LD18_w2,LD18_w3,LD18_w4], wl:LD18_wLines, wt:LD18_wLabels, vl:LD18_vLines,
  grid:{left:579,top:409,width:351,height:350}, xr:[2196,2604], yr:[-2.56,3.07], yt:yTicksAR, xminor:minorOD, xmajor:ticksOD, col:BLK, vcol:VRED, xName:true, yName:false, xShift:16},
 {pts:DH_pts, fit:DH_fit, comps:[DH_w1,DH_w2,DH_w3,DH_w4], wl:DH_wLines, wt:DH_wLabels, vl:DH_vLines,
  grid:{left:1075,top:53,width:348,height:350}, xr:[3068,3434], yr:[-3.6,3.08], yt:yTicksB, xminor:minorCH, xmajor:ticksCH, col:BLUE, vcol:VBLUE, xName:false, yName:true, yGap:70},
 {pts:DH18_pts, fit:DH18_fit, comps:[DH18_w1,DH18_w2,DH18_w3,DH18_w4], wl:DH18_wLines, wt:DH18_wLabels, vl:DH18_vLines,
  grid:{left:1075,top:403,width:348,height:349}, xr:[3068,3434], yr:[-3.57,3.09], yt:yTicksB, xminor:minorCH, xmajor:ticksCH, col:GRN, vcol:VBLUE, xName:true, yName:true, yGap:70, xShift:0},
 {pts:DD_pts, fit:DD_fit, comps:[DD_w1,DD_w2,DD_w3,DD_w4], wl:DD_wLines, wt:DD_wLabels, vl:DD_vLines,
  grid:{left:1547,top:53,width:349,height:350}, xr:[2196,2604], yr:[-4.59,3.61], yt:yTicksBR, xminor:minorOD, xmajor:ticksOD, col:BLUE, vcol:VBLUE, xName:false, yName:false},
 {pts:DD18_pts, fit:DD18_fit, comps:[DD18_w1,DD18_w2,DD18_w3,DD18_w4], wl:DD18_wLines, wt:DD18_wLabels, vl:DD18_vLines,
  grid:{left:1547,top:403,width:349,height:349}, xr:[2196,2604], yr:[-4.58,3.61], yt:yTicksBR, xminor:minorOD, xmajor:ticksOD, col:GRN, vcol:VBLUE, xName:true, yName:false, xShift:0}
];

const legends = [
 {text:'{b|H}{s|2}{b|O}', color:RED, left:173, top:92, cx:147, cy:107},
 {text:'{b|H}{s|2}{p|18}{b|O}', color:BLK, left:177, top:434, cx:152, cy:450},
 {text:'{b|D}{s|2}{b|O}', color:RED, left:628, top:80, cx:602, cy:95},
 {text:'{b|D}{s|2}{p|18}{b|O}', color:BLK, left:627, top:436, cx:600, cy:452},
 {text:'{b|H}{s|2}{b|O}', color:BLUE, left:1127, top:72, cx:1102, cy:87},
 {text:'{b|H}{s|2}{p|18}{b|O}', color:GRN, left:1120, top:424, cx:1088, cy:441},
 {text:'{b|H}{s|2}{b|O}', color:BLUE, left:1603, top:71, cx:1577, cy:87},
 {text:'{b|H}{s|2}{p|18}{b|O}', color:GRN, left:1603, top:424, cx:1572, cy:440}
];

const AX='#333';
const grid=[], xAxis=[], yAxis=[], series=[], title=[], graphic=[];

panels.forEach((p,i)=>{
  grid.push(Object.assign({show:true, borderColor:AX, borderWidth:1.5, backgroundColor:'transparent', containLabel:false, outerBoundsMode:'none'}, p.grid));
  const line={show:true, lineStyle:{color:AX, width:1.5}};
  const mk=(pos, vals, len, withLabel)=>{
    const a={type:'value', gridIndex:i, position:pos, min:p.xr[0], max:p.xr[1], axisLine:line, splitLine:{show:false},
      axisTick:{show:true, inside:true, length:len, customValues:vals, lineStyle:{color:AX, width:1.4}},
      axisLabel:{show:false}};
    if(withLabel){
      a.axisLabel={show:true, customValues:p.xmajor, fontSize:21, color:'#111', fontFamily:SANS, margin:11, formatter:(v)=>String(v)};
      a.name='{b|Wavenumber (cm}{p|-1}{b|)}';
      a.nameLocation='middle'; a.nameGap=40;
      a.nameTextStyle={padding:[0,0,0,p.xShift||0], rich:{
        b:{fontFamily:SANS, fontWeight:'bold', fontSize:27, color:'#111', lineHeight:36, verticalAlign:'bottom'},
        p:{fontFamily:SANS, fontWeight:'bold', fontSize:16, color:'#111', lineHeight:36, verticalAlign:'top'}}};
    }
    return a;
  };
  xAxis.push(mk('bottom', p.xminor, 5, p.xName));
  xAxis.push(mk('bottom', p.xmajor, 9, false));
  xAxis.push(mk('top', p.xminor, 5, false));
  xAxis.push(mk('top', p.xmajor, 9, false));
  const y={type:'value', gridIndex:i, position:'left', min:p.yr[0], max:p.yr[1], axisLine:line, splitLine:{show:false},
    axisTick:{show:true, inside:false, length:5, customValues:p.yt, lineStyle:{color:AX, width:1.4}},
    axisLabel:{show:true, customValues:[0], fontSize:21, color:'#111', fontFamily:SANS, margin:16}};
  if(p.yName){
    y.name='{i|Im}{c|(χ}{p|(2)}{c|)}{b| (a.u.)}';
    y.nameLocation='middle'; y.nameRotate=90; y.nameGap=p.yGap;
    y.nameTextStyle={rich:{
      i:{fontFamily:SANS, fontWeight:'bold', fontStyle:'italic', fontSize:25, color:'#111', lineHeight:36, verticalAlign:'bottom'},
      c:{fontFamily:SERIF, fontSize:26, color:'#111', lineHeight:36, verticalAlign:'bottom'},
      p:{fontFamily:SERIF, fontSize:16, color:'#111', lineHeight:36, verticalAlign:'top'},
      b:{fontFamily:SANS, fontWeight:'bold', fontSize:25, color:'#111', lineHeight:36, verticalAlign:'bottom'}}};
  }
  yAxis.push(y);
  const xi=4*i, yi=i;
  series.push({type:'scatter', xAxisIndex:xi, yAxisIndex:yi, data:p.pts, symbolSize:4.4, itemStyle:{color:p.col}, silent:true, z:2, animation:false});
  p.comps.forEach(c=>series.push({type:'line', xAxisIndex:xi, yAxisIndex:yi, data:c, smooth:0.4, symbol:'none', showSymbol:false,
    lineStyle:{color:'#6a6a6a', width:1.3}, silent:true, z:3, animation:false}));
  const ml=[{yAxis:0, lineStyle:{color:AX, type:'solid', width:1.4}}];
  p.wl.forEach(w=>ml.push([{coord:[w[0],w[1]], lineStyle:{color:'#555', type:[2,3], width:1.8}},{coord:[w[0],w[2]]}]));
  p.vl.forEach(v=>ml.push([{coord:[v[0],v[1]], lineStyle:{color:p.vcol, type:[3,3], width:3.2}},{coord:[v[0],v[2]]}]));
  series.push({type:'line', xAxisIndex:xi, yAxisIndex:yi, data:p.fit, smooth:0.35, symbol:'none', showSymbol:false,
    lineStyle:{color:p.col, width:2.6}, silent:true, z:4, animation:false,
    markLine:{silent:true, symbol:['none','none'], label:{show:false}, animation:false, data:ml}});
  series.push({type:'scatter', xAxisIndex:xi, yAxisIndex:yi, data:p.wt, symbolSize:1, itemStyle:{color:'rgba(0,0,0,0)'}, silent:true, z:5, animation:false,
    label:{show:true, position:'inside', formatter:(d)=>'{w|ω}{s|'+(d.dataIndex+1)+'}', rich:{
      w:{fontFamily:SERIF, fontSize:25, color:'#7a7a7a', lineHeight:32, verticalAlign:'top'},
      s:{fontFamily:SERIF, fontSize:17, color:'#7a7a7a', lineHeight:32, verticalAlign:'bottom'}}}});
});

// longer outward tick at zero on every panel
panels.forEach((p,i)=>{
  yAxis.push({type:'value', gridIndex:i, position:'left', min:p.yr[0], max:p.yr[1], axisLine:{show:false}, splitLine:{show:false},
    axisTick:{show:true, inside:false, length:11, customValues:[0], lineStyle:{color:AX, width:1.4}}, axisLabel:{show:false}});
});

// titles
const titleRich = (fs)=>({
  b:{fontFamily:'"DejaVu Sans", sans-serif', fontWeight:'bold', fontSize:fs, color:'#111', lineHeight:44, verticalAlign:'middle'},
  s:{fontFamily:'"DejaVu Sans", sans-serif', fontWeight:'bold', fontSize:Math.round(fs*0.62), color:'#111', lineHeight:44, verticalAlign:'bottom'}});
title.push({text:'{b|(a)}', left:122, top:1, padding:0, textStyle:{rich:titleRich(29)}});
title.push({text:'{b|(L-) LK}{s|7}{b|β}', left:199, top:1, padding:0, textStyle:{rich:titleRich(31)}});
title.push({text:'{b|(b)}', left:1072, top:1, padding:0, textStyle:{rich:titleRich(29)}});
title.push({text:'{b|(D-) LK}{s|7}{b|β}', left:1150, top:1, padding:0, textStyle:{rich:titleRich(31)}});

legends.forEach(l=>{
  title.push({text:l.text, left:l.left, top:l.top, padding:[0,2], backgroundColor:'#fff', textStyle:{rich:{
    b:{fontFamily:SANS, fontWeight:'bold', fontSize:24, color:l.color, lineHeight:30, verticalAlign:'middle'},
    s:{fontFamily:SANS, fontWeight:'bold', fontSize:16, color:l.color, lineHeight:30, verticalAlign:'bottom'},
    p:{fontFamily:SANS, fontWeight:'bold', fontSize:16, color:l.color, lineHeight:30, verticalAlign:'top'}}}});
  graphic.push({type:'circle', z:100, shape:{cx:l.cx, cy:l.cy, r:6.5}, style:{fill:'none', stroke:l.color, lineWidth:1.6}});
});

const chart = echarts.init(document.getElementById('c'), null, {renderer:'canvas'});
chart.setOption({animation:false, backgroundColor:'#fff', title, grid, xAxis, yAxis, series, graphic});
</script></body></html>
